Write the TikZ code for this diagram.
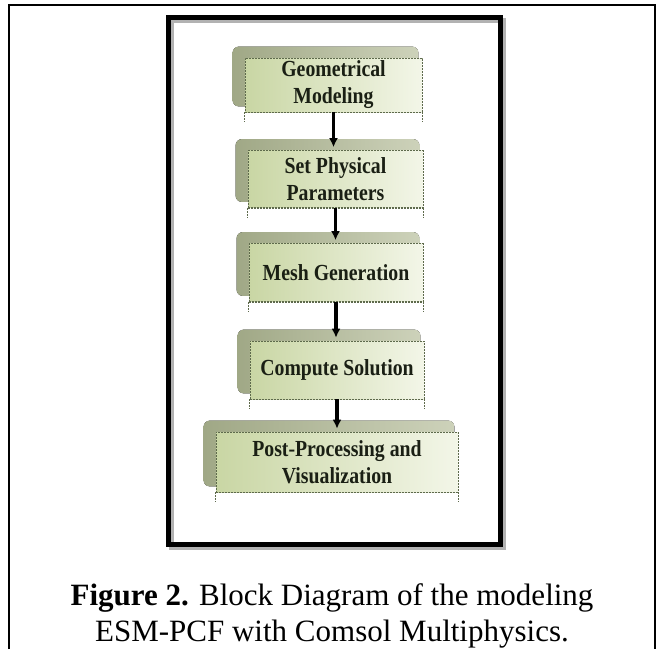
\documentclass[tikz,border=0pt]{standalone}
\usepackage{fontspec}
\setmainfont{Liberation Serif}
\newfontfamily\boxfont[FakeStretch=0.86]{Liberation Serif}
\usetikzlibrary{arrows.meta,backgrounds}
\definecolor{gA}{HTML}{C9D6A4}
\definecolor{gB}{HTML}{F3F6E8}
\definecolor{shA}{HTML}{A0A886}
\definecolor{shB}{HTML}{CDD2BA}
\definecolor{dashc}{HTML}{5E6A4C}
\definecolor{txtc}{HTML}{1A1F14}
\tikzset{
  mainbox/.style={draw=dashc, line width=0.7pt, dash pattern=on 2pt off 1pt,
    left color=gA, right color=gB, align=center, inner sep=0pt, text=txtc,
    font=\boxfont\bfseries\fontsize{23}{27}\selectfont},
  slab/.style={left color=shA, right color=shB, rounded corners=6pt},
  tickline/.style={draw=dashc, line width=0.6pt, dash pattern=on 2pt off 1pt},
  flow/.style={line width=3.2pt, -{Latex[length=9pt,width=9pt]}, shorten >=3pt},
  frameline/.style={line width=5pt, line join=miter}
}
\begin{document}
\begin{tikzpicture}[x=1pt,y=-1pt]
\useasboundingbox (0,0) rectangle (663,649);
% boxes
\node[mainbox, minimum width=177pt, minimum height=54pt] (m1) at (333.5,85) {Geometrical\\Modeling};
\node[mainbox, minimum width=175pt, minimum height=57pt] (m2) at (335.5,179) {Set Physical\\Parameters};
\node[mainbox, minimum width=174pt, minimum height=58pt] (m3) at (336,272.5) {Mesh Generation};
\node[mainbox, minimum width=174pt, minimum height=58pt] (m4) at (337,370) {Compute Solution};
\node[mainbox, minimum width=242pt, minimum height=60pt] (m5) at (337,462) {Post-Processing and\\Visualization};
\begin{scope}[on background layer]
  \fill[white] (0,0) rectangle (663,649);
  \foreach \n in {m1,m2,m3,m4,m5} {
    \fill[slab] ([shift={(-12,-11)}]\n.north west) rectangle ([shift={(-4,-6)}]\n.south east);
  }
\end{scope}
\foreach \n in {m1,m2,m3,m4,m5} {
  \draw[dashc, line width=1.4pt, dash pattern=on 2pt off 1pt] (\n.south west) -- (\n.south east);
  \draw[tickline] (\n.south west) -- ++(0,10);
  \draw[tickline] (\n.south east) -- ++(0,10);
}
% arrows
\draw[flow] (m1.south) -- (m1.south |- m2.north);
\draw[flow] (m2.south) -- (m2.south |- m3.north);
\draw[flow] (m3.south) -- (m3.south |- m4.north);
\draw[flow] (m4.south) -- (m4.south |- m5.north);
% inner frame with shadow
\coordinate (fa) at (168.5,17.5);
\coordinate (fb) at (500.5,544.5);
\draw[frameline, black!30] ([shift={(3,3)}]fa) rectangle ([shift={(3,3)}]fb);
\draw[frameline] (fa) rectangle (fb);
% outer frame
\coordinate (oa) at (9,649);
\coordinate (ob) at (655,649);
\draw[line width=2pt] (oa) -- (9,5) -- (655,5) -- (ob);
% caption
\node[font=\fontsize{31}{36}\selectfont, align=center] (cap) at (332,616)
  {\textbf{Figure 2.} Block Diagram of the modeling\\ESM-PCF with Comsol Multiphysics.};
\end{tikzpicture}
\end{document}
